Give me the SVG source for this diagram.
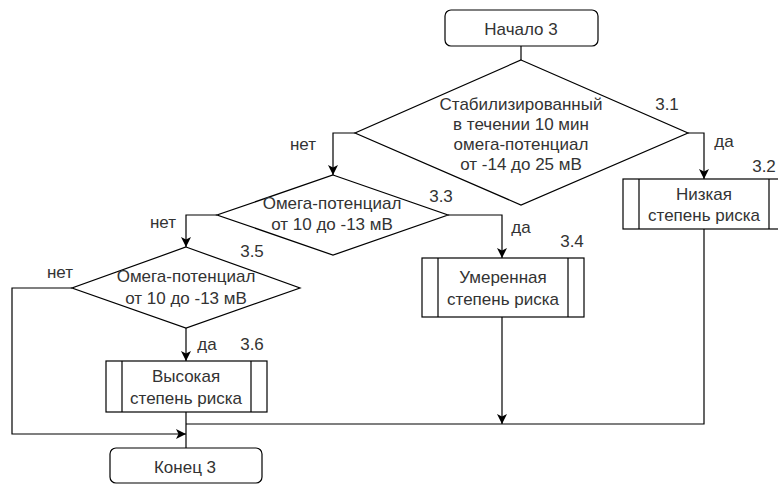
<svg xmlns="http://www.w3.org/2000/svg" width="778" height="484" viewBox="0 0 778 484">
<style>
.shape{fill:#fff;stroke:#000;stroke-width:1.2}
.line{fill:none;stroke:#000;stroke-width:1.2}
text{font-family:"Liberation Sans",Arial,sans-serif;font-size:17px;fill:#333}
.c{text-anchor:middle}
</style>
<defs>
<marker id="arr" markerUnits="userSpaceOnUse" markerWidth="12" markerHeight="12" refX="10" refY="5" orient="auto">
<path d="M10,5 L0,0 L2.5,5 L0,10 Z" fill="#000"/>
</marker>
</defs>
<rect width="778" height="484" fill="#fff"/>
<g id="connectors">
<path class="line" d="M521,46 V60"/>
<path class="line" d="M355,133 H333 V175" marker-end="url(#arr)"/>
<path class="line" d="M688,133 H704 V179" marker-end="url(#arr)"/>
<path class="line" d="M217,215 H186 V247" marker-end="url(#arr)"/>
<path class="line" d="M448,215 H502 V258" marker-end="url(#arr)"/>
<path class="line" d="M72,288 H12 V434 H186" marker-end="url(#arr)"/>
<path class="line" d="M186,328 V361" marker-end="url(#arr)"/>
<path class="line" d="M502,317 V424" marker-end="url(#arr)"/>
<path class="line" d="M704,229 V424 H186"/>
<path class="line" d="M186,412 V448"/>
<text x="303" y="150" class="c">нет</text>
<text x="724" y="147" class="c">да</text>
<text x="163" y="228" class="c">нет</text>
<text x="521" y="233" class="c">да</text>
<text x="60" y="278" class="c">нет</text>
<text x="207" y="350" class="c">да</text>
</g>
<g id="start">
<rect class="shape" x="445" y="10" width="153" height="36" rx="6"/>
<text x="521" y="35" class="c">Начало 3</text>
</g>
<g id="d31">
<polygon class="shape" points="521,60 688,133 521,205 355,133"/>
<text x="521" y="110" class="c">Стабилизированный</text>
<text x="521" y="130" class="c">в течении 10 мин</text>
<text x="521" y="150" class="c">омега-потенциал</text>
<text x="521" y="170" class="c">от -14 до 25 мВ</text>
<text x="667" y="110" class="c">3.1</text>
</g>
<g id="b32">
<rect class="shape" x="623" y="179" width="162" height="50"/>
<path class="line" d="M639,179 V229 M769,179 V229"/>
<text x="704" y="200" class="c">Низкая</text>
<text x="704" y="221" class="c">степень риска</text>
<text x="764" y="172" class="c">3.2</text>
</g>
<g id="d33">
<polygon class="shape" points="333,175 448,215 333,255 217,215"/>
<text x="332" y="209" class="c">Омега-потенциал</text>
<text x="332" y="230" class="c">от 10 до -13 мВ</text>
<text x="441" y="202" class="c">3.3</text>
</g>
<g id="b34">
<rect class="shape" x="422" y="258" width="162" height="59"/>
<path class="line" d="M438,258 V317 M568,258 V317"/>
<text x="503" y="283" class="c">Умеренная</text>
<text x="503" y="305" class="c">степень риска</text>
<text x="572" y="247" class="c">3.4</text>
</g>
<g id="d35">
<polygon class="shape" points="186,247 300,288 186,328 72,288"/>
<text x="186" y="282" class="c">Омега-потенциал</text>
<text x="186" y="304" class="c">от 10 до -13 мВ</text>
<text x="252" y="257" class="c">3.5</text>
</g>
<g id="b36">
<rect class="shape" x="106" y="361" width="161" height="51"/>
<path class="line" d="M122,361 V412 M251,361 V412"/>
<text x="186" y="382" class="c">Высокая</text>
<text x="186" y="404" class="c">степень риска</text>
<text x="252" y="350" class="c">3.6</text>
</g>
<g id="end">
<rect class="shape" x="110" y="448" width="152" height="35" rx="6"/>
<text x="185" y="473" class="c">Конец 3</text>
</g>
</svg>
